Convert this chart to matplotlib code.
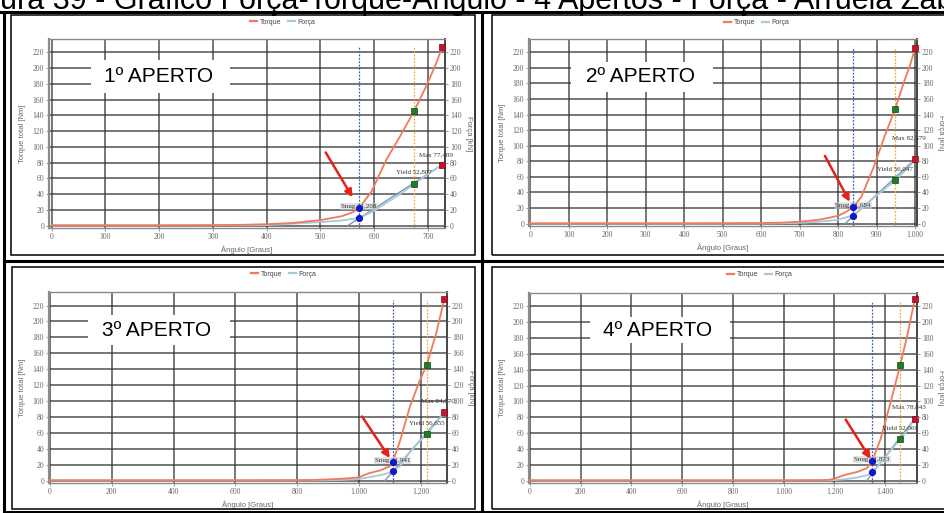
import matplotlib
matplotlib.use('Agg')
import matplotlib.pyplot as plt
from matplotlib.patches import Rectangle
from matplotlib.lines import Line2D
from matplotlib.ticker import FixedLocator, FuncFormatter

W, H = 944, 513

# ---------------- data ----------------
title_text = 'ura 39 - Gráfico Força-Torque-Ângulo - 4 Apertos - Força - Arruela Zabi'
panel_names = ['1º APERTO', '2º APERTO', '3º APERTO', '4º APERTO']

ang1 = [0, 100, 200, 300, 350, 400, 450, 500, 540, 560, 572, 595, 623, 648, 675, 697, 715, 727]
tq1 = [0.5, 0.5, 0.5, 0.7, 1.0, 1.8, 3.5, 7, 12, 17, 22.4, 43, 84, 113, 146, 177, 205, 227]
fz1 = [0.2, 0.2, 0.2, 0.3, 0.4, 0.6, 2.5, 4.5, 6.5, 8.5, 9.7, 17, 29, 40, 53, 64, 72, 77.5]

ang2 = [0, 100, 200, 300, 400, 500, 600, 650, 700, 750, 800, 820, 838, 860, 892, 920, 948, 970, 988, 1000]
tq2 = [0.5, 0.5, 0.5, 0.5, 0.5, 0.6, 0.8, 1.2, 2.5, 5, 10, 15, 21, 34, 72, 111, 147, 180, 205, 225]
fz2 = [0.1, 0.1, 0.1, 0.1, 0.1, 0.1, 0.2, 0.5, 1, 2.5, 5, 8, 10.3, 19, 33, 44, 55.5, 66, 75, 82.6]

ang3 = [0, 200, 400, 600, 800, 850, 900, 950, 1000, 1030, 1070, 1100, 1109, 1133, 1165, 1198, 1219, 1250, 1276]
tq3 = [0.5, 0.5, 0.5, 0.5, 0.6, 0.8, 1.5, 2.5, 4, 9, 13, 18, 23, 50, 93, 127, 145, 185, 228]
fz3 = [0.1, 0.1, 0.1, 0.1, 0.1, 0.2, 0.4, 1, 2, 4, 7, 10, 12.5, 18, 36, 50, 58, 73, 85.6]

ang4 = [0, 200, 400, 600, 800, 1000, 1150, 1180, 1200, 1220, 1250, 1290, 1329, 1348, 1381, 1421, 1459, 1490, 1516]
tq4 = [0.5, 0.5, 0.5, 0.5, 0.5, 0.5, 0.6, 1, 2.5, 5, 8, 11, 16, 24.5, 52, 99, 146, 188, 229]
fz4 = [0.1, 0.1, 0.1, 0.1, 0.1, 0.1, 0.2, 0.3, 0.6, 1.2, 2, 4, 7, 10.5, 22, 38, 52, 65, 78.3]

angles = [ang1, ang2, ang3, ang4]
torques = [tq1, tq2, tq3, tq4]
forces = [fz1, fz2, fz3, fz4]

# snug / yield / max angles
snug_ang = [572, 838, 1109, 1348]
yield_ang = [675, 948, 1219, 1459]
max_ang = [727, 1000, 1276, 1516]
snug_tq = [22.4, 21, 23, 24.5]
snug_fz = [9.7, 10.3, 12.5, 10.5]
yield_tq = [146, 147, 145, 146]
yield_fz = [53, 55.5, 58, 52]
max_tq = [227, 225, 228, 229]
max_fz = [77.5, 82.6, 85.6, 78.3]

snug_labels = ['Snug 21,208', 'Snug 21,684', 'Snug 21,941', 'Snug 21,873']
yield_labels = ['Yield 52,887', 'Yield 56,047', 'Yield 56,655', 'Yield 52,069']
max_labels = ['Max 77,489', 'Max 82,379', 'Max 84,870', 'Max 78,843']

# linear fit line of the force curve (start angle, end angle / force)
fit_ang = [[551, 727], [818, 1000], [1084, 1276], [1327, 1516]]
fit_fz = [[0, 77.5], [0, 82.6], [0, 85.6], [0, 78.3]]

x_ticks = [list(range(0, 701, 100)), list(range(0, 1001, 100)),
           list(range(0, 1201, 200)), list(range(0, 1401, 200))]
y_ticks = list(range(0, 221, 20))

# ---------------- layout (pixels) ----------------
axes_px = [(49, 445, 39, 228), (529, 917, 39, 226), (49, 447, 292, 483), (529, 917, 293, 483)]
xlims = [(-5, 732), (-3, 1005), (-3, 1285), (-3, 1525)]
ylim = (-3, 237)
legend_px = [(283, 22), (757, 23), (284, 274), (760, 275)]
label_box_px = [(91, 60, 230, 93), (571, 62, 713, 92), (88, 315, 230, 345), (590, 317, 730, 343)]
arrow_off = [(-24, 40), (-20, 37), (-22, 33), (-19, 30)]
arrow_shrink = [9, 4.5, 3.7, 2]
max_dy = [12, 28, 15, 15]
panel_box_px = [(11, 15, 475, 255), (492, 15, 960, 255), (12, 267, 475, 509), (492, 267, 960, 509)]

C_TQ = '#f07a5a'
C_FZ = '#a8c8dc'
C_FIT = '#7d98ae'
C_GRID = '#333333'
C_TXT = '#666666'


def fx(px):
    return px / W


def fy(py):
    return 1 - py / H


fig = plt.figure(figsize=(W / 100, H / 100), dpi=100)
fig.patch.set_facecolor('white')

# title (cut off at the top, as in the scan)
fig.text(0.0, fy(9.5), title_text, fontsize=22, family='Liberation Sans', va='baseline', ha='left', color='black')

# table lines
for (x0, y0, x1, y1) in [(0, 11.5, W, 11.5), (3.5, 11.5, 3.5, H), (482, 11.5, 482, H), (3.5, 261, W, 261), (3.5, 512, W, 512)]:
    fig.add_artist(Line2D([fx(x0), fx(x1)], [fy(y0), fy(y1)], color='black', lw=2.2, transform=fig.transFigure))

for (x0, y0, x1, y1) in panel_box_px:
    fig.add_artist(Rectangle((fx(x0), fy(y1)), (x1 - x0) / W, (y1 - y0) / H, transform=fig.transFigure,
                             fill=False, edgecolor='black', lw=1.1))

thousands = FuncFormatter(lambda v, p: f'{int(v):,}'.replace(',', '.'))

for i in range(4):
    l, r, t, b = axes_px[i]
    ax = fig.add_axes([fx(l), fy(b), (r - l) / W, (b - t) / H])
    ax.set_xlim(*xlims[i])
    ax.set_ylim(*ylim)
    ax.xaxis.set_major_locator(FixedLocator(x_ticks[i]))
    ax.xaxis.set_major_formatter(thousands)
    ax.yaxis.set_major_locator(FixedLocator(y_ticks))
    ax.grid(True, color=C_GRID, lw=1.1, alpha=0.85)
    ax.set_axisbelow(True)
    for s in ['left', 'bottom', 'top']:
        ax.spines[s].set_color('#8a8a8a')
        ax.spines[s].set_linewidth(1.0)
    ax.spines['left'].set_linewidth(1.6)
    ax.spines['right'].set_color('#444444')
    ax.spines['right'].set_linewidth(1.4)
    ax.tick_params(axis='both', labelsize=5.5, colors='#888888', labelcolor=C_TXT, length=2, width=0.6, pad=1.5)
    for lab in ax.get_xticklabels() + ax.get_yticklabels():
        lab.set_family('Liberation Serif')
    ax.set_xlabel('Ângulo [Graus]', fontsize=5.5, color=C_TXT, labelpad=3.5, family='Liberation Sans')
    ax.set_ylabel('Torque total [Nm]', fontsize=5.5, color=C_TXT, labelpad=5, family='Liberation Sans')

    ax2 = ax.twinx()
    ax2.set_ylim(*ylim)
    ax2.yaxis.set_major_locator(FixedLocator(y_ticks))
    ax2.tick_params(axis='y', labelsize=5.5, colors='#888888', labelcolor=C_TXT, length=2, width=0.6, pad=1.5)
    for lab in ax2.get_yticklabels():
        lab.set_family('Liberation Serif')
    for s in ['left', 'bottom', 'top', 'right']:
        ax2.spines[s].set_visible(False)
    ax2.set_ylabel('Força [kN]', fontsize=5.5, color=C_TXT, rotation=270, labelpad=8, family='Liberation Sans')

    # vertical marker lines
    ax.plot([snug_ang[i], snug_ang[i]], [ylim[0], 227], color='#3a5ad0', lw=0.9, ls=(0, (1.5, 1.2)), zorder=2)
    ax.plot([yield_ang[i], yield_ang[i]], [ylim[0], 227], color='#f5a83a', lw=0.9, ls=(0, (1.5, 1.2)), zorder=2)

    # curves
    ax.plot(fit_ang[i], fit_fz[i], color=C_FIT, lw=1.0, zorder=3)
    ax.plot(angles[i], forces[i], color=C_FZ, lw=1.3, zorder=3)
    ax.plot(angles[i], torques[i], color=C_TQ, lw=1.3, zorder=4)

    # key points
    ax.plot([snug_ang[i]] * 2, [snug_tq[i], snug_fz[i]], 'o', color='#1018c8', ms=4.2, zorder=6)
    ax.plot([yield_ang[i]] * 2, [yield_tq[i], yield_fz[i]], 's', color='#1e7d28', mec='#0d4a12', mew=0.5, ms=4.2, zorder=6)
    ax.plot([max_ang[i]] * 2, [max_tq[i], max_fz[i]], 's', color='#c8142a', mec='#7a0a15', mew=0.5, ms=4.2, zorder=6, clip_on=False)

    # small annotation labels
    bb = dict(boxstyle='square,pad=0.15', facecolor='#cfcfcf', edgecolor='none', alpha=0.55)
    ax.text(snug_ang[i], snug_tq[i] + 2, snug_labels[i], fontsize=5, family='Liberation Serif', color='#333333',
            ha='center', va='center', bbox=bb, zorder=5)
    ax.text(yield_ang[i], yield_fz[i] + 15, yield_labels[i], fontsize=5, family='Liberation Serif', color='#333333',
            ha='center', va='center', zorder=5)
    ax.text(max_ang[i] - 0.015 * (xlims[i][1] - xlims[i][0]), max_fz[i] + max_dy[i], max_labels[i], fontsize=5,
            family='Liberation Serif', color='#333333', ha='center', va='center', zorder=5)

    # red arrow to the snug point
    ax.annotate('', xy=(snug_ang[i], snug_tq[i]), xytext=arrow_off[i], textcoords='offset points',
                arrowprops=dict(arrowstyle='-|>', color='#e8201a', lw=1.8, mutation_scale=11,
                                shrinkA=0, shrinkB=arrow_shrink[i]), zorder=7)

    # legend
    handles = [Line2D([], [], color=C_TQ, lw=1.6), Line2D([], [], color=C_FZ, lw=1.6)]
    leg = fig.legend(handles, ['Torque', 'Força'], loc='center', bbox_to_anchor=(fx(legend_px[i][0]), fy(legend_px[i][1])),
                     ncol=2, frameon=False, fontsize=5, handlelength=1.0, handletextpad=0.4, columnspacing=0.9,
                     borderpad=0.1)
    for tx in leg.get_texts():
        tx.set_color('#444444')
        tx.set_family('Liberation Sans')

    # big white label
    x0, y0, x1, y1 = label_box_px[i]
    fig.add_artist(Rectangle((fx(x0), fy(y1)), (x1 - x0) / W, (y1 - y0) / H, transform=fig.transFigure,
                             facecolor='white', edgecolor='none', zorder=8))
    fig.text(fx((x0 + x1) / 2 - 2), fy((y0 + y1) / 2), panel_names[i], fontsize=15, family='Liberation Sans',
             ha='center', va='center', color='black', zorder=9)

fig.savefig('out.png', dpi=100)
